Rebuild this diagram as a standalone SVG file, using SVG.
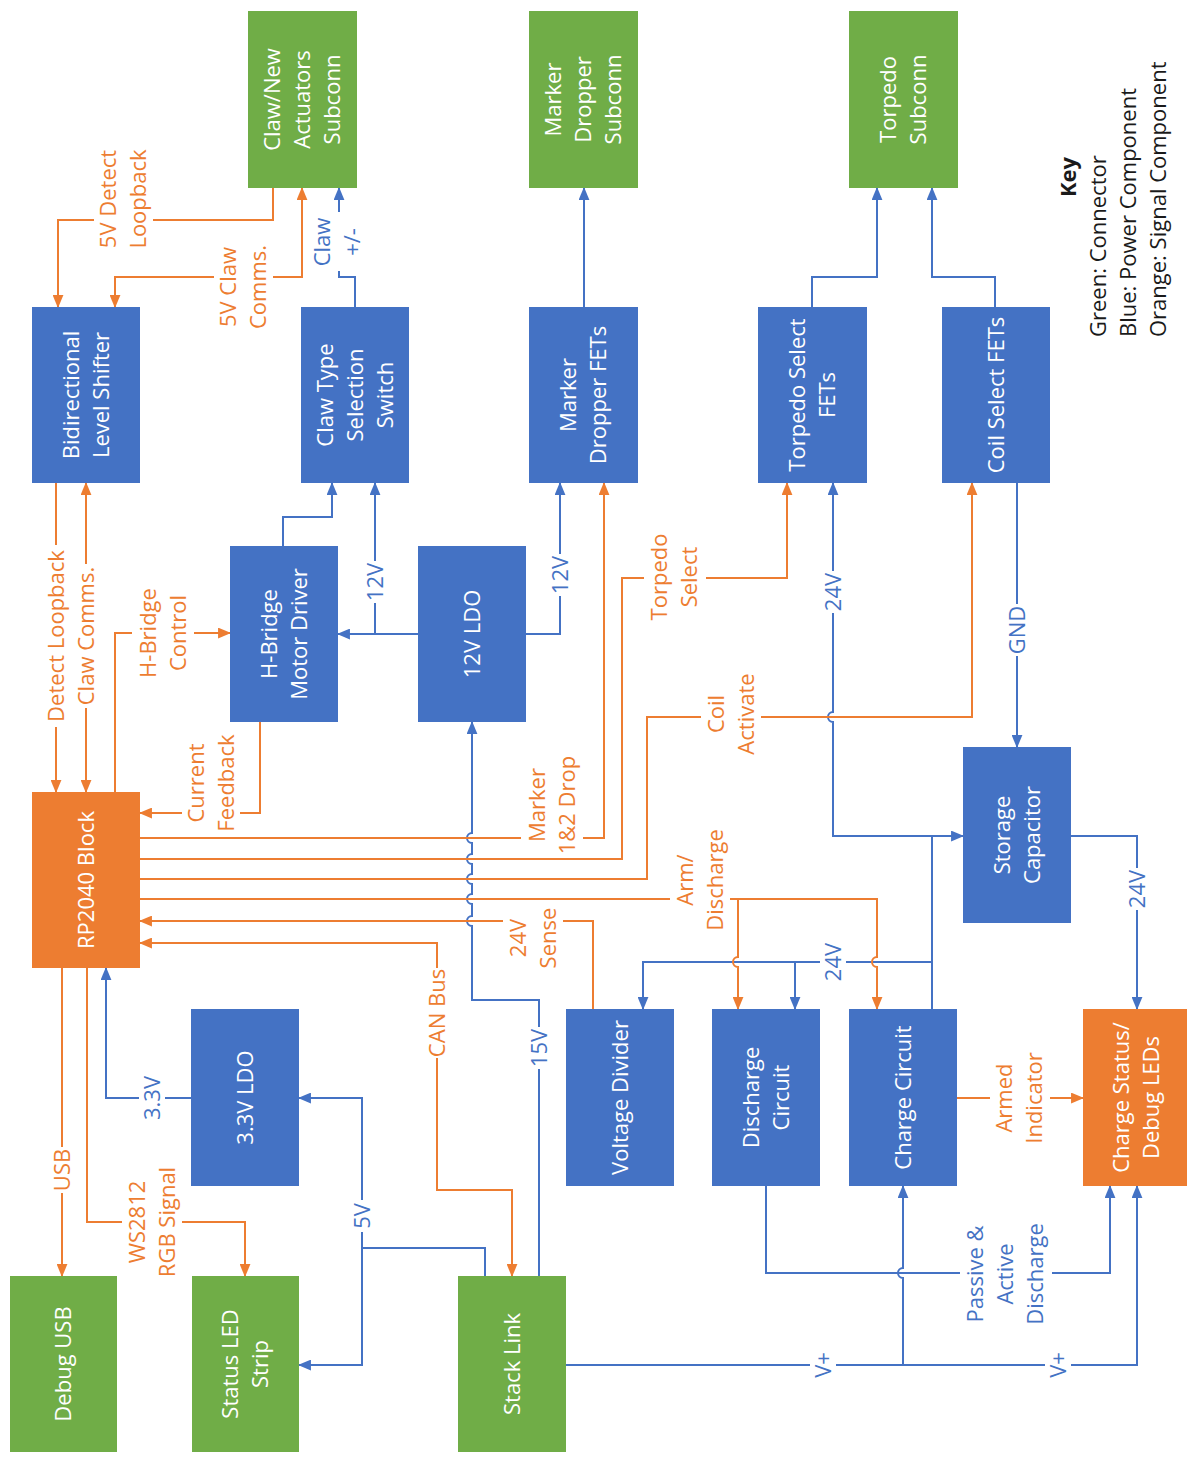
<svg xmlns="http://www.w3.org/2000/svg" width="1187" height="1457" viewBox="0 0 1187 1457">
  <style>
    .nb { fill: #4472C4; }
    .ng { fill: #70AD47; }
    .no { fill: #ED7D31; }
    .nt { font-family: "Open Sans", "Noto Sans", "DejaVu Sans", sans-serif; font-size: 22px; fill: #ffffff; text-anchor: middle; }
    .et { font-family: "Open Sans", "Noto Sans", "DejaVu Sans", sans-serif; font-size: 22px; text-anchor: middle; }
    .eb { fill: #4472C4; }
    .eo { fill: #ED7D31; }
    .lb { stroke: #4472C4; stroke-width: 2; fill: none; }
    .lo { stroke: #ED7D31; stroke-width: 2; fill: none; }
    .ab { marker-end: url(#arB); }
    .ao { marker-end: url(#arO); }
    .ao2 { marker-start: url(#arO); marker-end: url(#arO); }
    .bg { fill: #ffffff; }
    .kt { font-family: "Open Sans", "Noto Sans", "DejaVu Sans", sans-serif; font-size: 22px; fill: #1a1a1a; }
  </style>
  <defs>
    <marker id="arB" viewBox="0 0 12 10" refX="11" refY="5" markerWidth="13" markerHeight="11" orient="auto-start-reverse" markerUnits="userSpaceOnUse">
      <path d="M0,0 L12,5 L0,10 z" fill="#4472C4"/>
    </marker>
    <marker id="arO" viewBox="0 0 12 10" refX="11" refY="5" markerWidth="13" markerHeight="11" orient="auto-start-reverse" markerUnits="userSpaceOnUse">
      <path d="M0,0 L12,5 L0,10 z" fill="#ED7D31"/>
    </marker>
  </defs>

  <rect x="0" y="0" width="1187" height="1457" fill="#ffffff"/>

  <!-- connectors -->
  <g id="connectors">
    <!-- power (blue) -->
    <path class="lb ab" d="M355,307 V277 H339 V188"/>
    <path class="lb ab" d="M283,546 V517 H332 V483"/>
    <path class="lb ab" d="M418,634 H338"/>
    <path class="lb ab" d="M375,634 V483"/>
    <path class="lb ab" d="M526,634 H560 V483"/>
    <path class="lb ab" d="M584,307 V188"/>
    <path class="lb ab" d="M812,307 V277 H877 V188"/>
    <path class="lb ab" d="M995,307 V277 H932 V188"/>
    <path class="lb ab" d="M1017,483 V747"/>
    <path class="lb ab" d="M932,836 H833 V722 A5,5 0 0 1 833,712 V483"/>
    <path class="lb ab" d="M932,1009 V836 H963"/>
    <path class="lb ab" d="M932,962 H643 V1009"/>
    <path class="lb ab" d="M795,962 V1009"/>
    <path class="lb ab" d="M1071,836 H1137 V1009"/>
    <path class="lb ab" d="M539,1276 V1000 H472 V926 A5,5 0 0 1 472,916 V904 A5,5 0 0 1 472,894 V884 A5,5 0 0 1 472,874 V864 A5,5 0 0 1 472,854 V843 A5,5 0 0 1 472,833 V722"/>
    <path class="lb ab" d="M485,1276 V1248 H362 V1098 H299"/>
    <path class="lb ab" d="M362,1248 V1365 H299"/>
    <path class="lb ab" d="M191,1098 H106 V968"/>
    <path class="lb ab" d="M566,1365 H1137 V1186"/>
    <path class="lb ab" d="M903,1365 V1278 A5,5 0 0 1 903,1268 V1186"/>
    <path class="lb ab" d="M766,1186 V1273 H1110 V1186"/>

    <!-- signal (orange) -->
    <path class="lo ao" d="M273,188 V220 H58 V307"/>
    <path class="lo ao2" d="M115,307 V277 H302 V188"/>
    <path class="lo ao" d="M56,483 V792"/>
    <path class="lo ao2" d="M86,483 V792"/>
    <path class="lo ao" d="M115,792 V633 H230"/>
    <path class="lo ao" d="M260,722 V813 H140"/>
    <path class="lo ao" d="M140,838 H604 V483"/>
    <path class="lo ao" d="M140,859 H622 V578 H787 V483"/>
    <path class="lo ao" d="M140,879 H647 V717 H972 V483"/>
    <path class="lo ao" d="M140,899 H877 V957 A5,5 0 0 0 877,967 V1009"/>
    <path class="lo ao" d="M738,899 V957 A5,5 0 0 0 738,967 V1009"/>
    <path class="lo ao" d="M593,1009 V921 H140"/>
    <path class="lo ao2" d="M140,943 H437 V1190 H512 V1276"/>
    <path class="lo ao" d="M62,968 V1276"/>
    <path class="lo ao" d="M87,968 V1222 H245 V1276"/>
    <path class="lo ao" d="M957,1098 H1083"/>

    <!-- label backings -->
    <rect class="bg" x="94" y="146" width="59" height="106"/>
    <rect class="bg" x="214" y="241" width="59" height="90"/>
    <rect class="bg" x="313" y="212" width="48" height="59"/>
    <rect class="bg" x="362" y="561" width="26" height="42"/>
    <rect class="bg" x="547" y="554" width="26" height="42"/>
    <rect class="bg" x="1004" y="604" width="26" height="52"/>
    <rect class="bg" x="820" y="571" width="26" height="42"/>
    <rect class="bg" x="820" y="941" width="26" height="42"/>
    <rect class="bg" x="1124" y="868" width="26" height="42"/>
    <rect class="bg" x="526" y="1027" width="26" height="42"/>
    <rect class="bg" x="349" y="1200" width="26" height="32"/>
    <rect class="bg" x="139" y="1075" width="26" height="46"/>
    <rect class="bg" x="810" y="1347" width="26" height="36"/>
    <rect class="bg" x="1045" y="1347" width="26" height="36"/>
    <rect class="bg" x="960" y="1220" width="92" height="108"/>
    <rect class="bg" x="43" y="545" width="26" height="182"/>
    <rect class="bg" x="73" y="564" width="26" height="144"/>
    <rect class="bg" x="132" y="586" width="62" height="96"/>
    <rect class="bg" x="182" y="728" width="58" height="104"/>
    <rect class="bg" x="521" y="750" width="62" height="106"/>
    <rect class="bg" x="644" y="528" width="62" height="96"/>
    <rect class="bg" x="701" y="668" width="60" height="94"/>
    <rect class="bg" x="670" y="826" width="60" height="108"/>
    <rect class="bg" x="503" y="906" width="60" height="66"/>
    <rect class="bg" x="424" y="968" width="26" height="90"/>
    <rect class="bg" x="49" y="1147" width="26" height="46"/>
    <rect class="bg" x="122" y="1162" width="60" height="118"/>
    <rect class="bg" x="990" y="1048" width="60" height="100"/>

    <!-- connector labels -->
    <g transform="translate(123,199) rotate(-90)"><text class="et eo"><tspan x="0" y="-7.3">5V Detect</tspan><tspan x="0" y="22.7">Loopback</tspan></text></g>
    <g transform="translate(243,287) rotate(-90)"><text class="et eo"><tspan x="0" y="-7.3">5V Claw</tspan><tspan x="0" y="22.7">Comms.</tspan></text></g>
    <g transform="translate(337,242) rotate(-90)"><text class="et eb"><tspan x="0" y="-7.3">Claw</tspan><tspan x="0" y="22.7">+/-</tspan></text></g>
    <g transform="translate(375,582) rotate(-90)"><text class="et eb" y="7.7">12V</text></g>
    <g transform="translate(560,575) rotate(-90)"><text class="et eb" y="7.7">12V</text></g>
    <g transform="translate(1017,630) rotate(-90)"><text class="et eb" y="7.7">GND</text></g>
    <g transform="translate(833,592) rotate(-90)"><text class="et eb" y="7.7">24V</text></g>
    <g transform="translate(833,962) rotate(-90)"><text class="et eb" y="7.7">24V</text></g>
    <g transform="translate(1137,889) rotate(-90)"><text class="et eb" y="7.7">24V</text></g>
    <g transform="translate(539,1048) rotate(-90)"><text class="et eb" y="7.7">15V</text></g>
    <g transform="translate(362,1216) rotate(-90)"><text class="et eb" y="7.7">5V</text></g>
    <g transform="translate(152,1098) rotate(-90)"><text class="et eb" y="7.7">3.3V</text></g>
    <g transform="translate(823,1365) rotate(-90)"><text class="et eb" y="7.7">V+</text></g>
    <g transform="translate(1058,1365) rotate(-90)"><text class="et eb" y="7.7">V+</text></g>
    <g transform="translate(1005,1274) rotate(-90)"><text class="et eb"><tspan x="0" y="-22.3">Passive &amp;</tspan><tspan x="0" y="7.7">Active</tspan><tspan x="0" y="37.7">Discharge</tspan></text></g>
    <g transform="translate(56,636) rotate(-90)"><text class="et eo" y="7.7">Detect Loopback</text></g>
    <g transform="translate(86,636) rotate(-90)"><text class="et eo" y="7.7">Claw Comms.</text></g>
    <g transform="translate(163,633) rotate(-90)"><text class="et eo"><tspan x="0" y="-7.3">H-Bridge</tspan><tspan x="0" y="22.7">Control</tspan></text></g>
    <g transform="translate(211,783) rotate(-90)"><text class="et eo"><tspan x="0" y="-7.3">Current</tspan><tspan x="0" y="22.7">Feedback</tspan></text></g>
    <g transform="translate(552,805) rotate(-90)"><text class="et eo"><tspan x="0" y="-7.3">Marker</tspan><tspan x="0" y="22.7">1&amp;2 Drop</tspan></text></g>
    <g transform="translate(674,577) rotate(-90)"><text class="et eo"><tspan x="0" y="-7.3">Torpedo</tspan><tspan x="0" y="22.7">Select</tspan></text></g>
    <g transform="translate(731,714) rotate(-90)"><text class="et eo"><tspan x="0" y="-7.3">Coil</tspan><tspan x="0" y="22.7">Activate</tspan></text></g>
    <g transform="translate(700,880) rotate(-90)"><text class="et eo"><tspan x="0" y="-7.3">Arm/</tspan><tspan x="0" y="22.7">Discharge</tspan></text></g>
    <g transform="translate(533,938) rotate(-90)"><text class="et eo"><tspan x="0" y="-7.3">24V</tspan><tspan x="0" y="22.7">Sense</tspan></text></g>
    <g transform="translate(437,1013) rotate(-90)"><text class="et eo" y="7.7">CAN Bus</text></g>
    <g transform="translate(62,1170) rotate(-90)"><text class="et eo" y="7.7">USB</text></g>
    <g transform="translate(152,1222) rotate(-90)"><text class="et eo"><tspan x="0" y="-7.3">WS2812</tspan><tspan x="0" y="22.7">RGB Signal</tspan></text></g>
    <g transform="translate(1019,1098) rotate(-90)"><text class="et eo"><tspan x="0" y="-7.3">Armed</tspan><tspan x="0" y="22.7">Indicator</tspan></text></g>
  </g>

  <!-- connectors (green) -->
  <g id="claw-subconn">
    <rect class="ng" x="248" y="11" width="109" height="177"/>
    <g transform="translate(302.5,99.5) rotate(-90)"><text class="nt"><tspan x="0" y="-22.3">Claw/New</tspan><tspan x="0" y="7.7">Actuators</tspan><tspan x="0" y="37.7">Subconn</tspan></text></g>
  </g>
  <g id="marker-subconn">
    <rect class="ng" x="529" y="11" width="109" height="177"/>
    <g transform="translate(583.5,99.5) rotate(-90)"><text class="nt"><tspan x="0" y="-22.3">Marker</tspan><tspan x="0" y="7.7">Dropper</tspan><tspan x="0" y="37.7">Subconn</tspan></text></g>
  </g>
  <g id="torpedo-subconn">
    <rect class="ng" x="849" y="11" width="109" height="177"/>
    <g transform="translate(903.5,99.5) rotate(-90)"><text class="nt"><tspan x="0" y="-7.3">Torpedo</tspan><tspan x="0" y="22.7">Subconn</tspan></text></g>
  </g>
  <g id="debug-usb">
    <rect class="ng" x="10" y="1276" width="107" height="176"/>
    <g transform="translate(63.5,1364) rotate(-90)"><text class="nt" y="7.7">Debug USB</text></g>
  </g>
  <g id="status-led-strip">
    <rect class="ng" x="192" y="1276" width="107" height="176"/>
    <g transform="translate(245.5,1364) rotate(-90)"><text class="nt"><tspan x="0" y="-7.3">Status LED</tspan><tspan x="0" y="22.7">Strip</tspan></text></g>
  </g>
  <g id="stack-link">
    <rect class="ng" x="458" y="1276" width="108" height="176"/>
    <g transform="translate(512,1364) rotate(-90)"><text class="nt" y="7.7">Stack Link</text></g>
  </g>

  <!-- power components (blue) -->
  <g id="level-shifter">
    <rect class="nb" x="32" y="307" width="108" height="176"/>
    <g transform="translate(86,395) rotate(-90)"><text class="nt"><tspan x="0" y="-7.3">Bidirectional</tspan><tspan x="0" y="22.7">Level Shifter</tspan></text></g>
  </g>
  <g id="claw-switch">
    <rect class="nb" x="301" y="307" width="108" height="176"/>
    <g transform="translate(355,395) rotate(-90)"><text class="nt"><tspan x="0" y="-22.3">Claw Type</tspan><tspan x="0" y="7.7">Selection</tspan><tspan x="0" y="37.7">Switch</tspan></text></g>
  </g>
  <g id="marker-fets">
    <rect class="nb" x="529" y="307" width="109" height="176"/>
    <g transform="translate(583.5,395) rotate(-90)"><text class="nt"><tspan x="0" y="-7.3">Marker</tspan><tspan x="0" y="22.7">Dropper FETs</tspan></text></g>
  </g>
  <g id="torpedo-fets">
    <rect class="nb" x="758" y="307" width="109" height="176"/>
    <g transform="translate(812.5,395) rotate(-90)"><text class="nt"><tspan x="0" y="-7.3">Torpedo Select</tspan><tspan x="0" y="22.7">FETs</tspan></text></g>
  </g>
  <g id="coil-fets">
    <rect class="nb" x="942" y="307" width="108" height="176"/>
    <g transform="translate(996,395) rotate(-90)"><text class="nt" y="7.7">Coil Select FETs</text></g>
  </g>
  <g id="hbridge">
    <rect class="nb" x="230" y="546" width="108" height="176"/>
    <g transform="translate(284,634) rotate(-90)"><text class="nt"><tspan x="0" y="-7.3">H-Bridge</tspan><tspan x="0" y="22.7">Motor Driver</tspan></text></g>
  </g>
  <g id="ldo-12v">
    <rect class="nb" x="418" y="546" width="108" height="176"/>
    <g transform="translate(472,634) rotate(-90)"><text class="nt" y="7.7">12V LDO</text></g>
  </g>
  <g id="storage-cap">
    <rect class="nb" x="963" y="747" width="108" height="176"/>
    <g transform="translate(1017,835) rotate(-90)"><text class="nt"><tspan x="0" y="-7.3">Storage</tspan><tspan x="0" y="22.7">Capacitor</tspan></text></g>
  </g>
  <g id="ldo-3v3">
    <rect class="nb" x="191" y="1009" width="108" height="177"/>
    <g transform="translate(245,1097.5) rotate(-90)"><text class="nt" y="7.7">3.3V LDO</text></g>
  </g>
  <g id="voltage-divider">
    <rect class="nb" x="566" y="1009" width="108" height="177"/>
    <g transform="translate(620,1097.5) rotate(-90)"><text class="nt" y="7.7">Voltage Divider</text></g>
  </g>
  <g id="discharge-circuit">
    <rect class="nb" x="712" y="1009" width="108" height="177"/>
    <g transform="translate(766,1097.5) rotate(-90)"><text class="nt"><tspan x="0" y="-7.3">Discharge</tspan><tspan x="0" y="22.7">Circuit</tspan></text></g>
  </g>
  <g id="charge-circuit">
    <rect class="nb" x="849" y="1009" width="108" height="177"/>
    <g transform="translate(903,1097.5) rotate(-90)"><text class="nt" y="7.7">Charge Circuit</text></g>
  </g>

  <!-- signal components (orange) -->
  <g id="rp2040">
    <rect class="no" x="32" y="792" width="108" height="176"/>
    <g transform="translate(86,880) rotate(-90)"><text class="nt" y="7.7">RP2040 Block</text></g>
  </g>
  <g id="charge-status-leds">
    <rect class="no" x="1083" y="1009" width="108" height="177"/>
    <g transform="translate(1136,1097.5) rotate(-90)"><text class="nt"><tspan x="0" y="-7.3">Charge Status/</tspan><tspan x="0" y="22.7">Debug LEDs</tspan></text></g>
  </g>

  <!-- key -->
  <g id="key">
    <g transform="translate(1068,177) rotate(-90)"><text class="kt" text-anchor="middle" font-weight="bold" y="7.7">Key</text></g>
    <g transform="translate(1098,337) rotate(-90)"><text class="kt" y="7.7">Green: Connector</text></g>
    <g transform="translate(1128,337) rotate(-90)"><text class="kt" y="7.7">Blue: Power Component</text></g>
    <g transform="translate(1158,337) rotate(-90)"><text class="kt" y="7.7">Orange: Signal Component</text></g>
  </g>
</svg>
